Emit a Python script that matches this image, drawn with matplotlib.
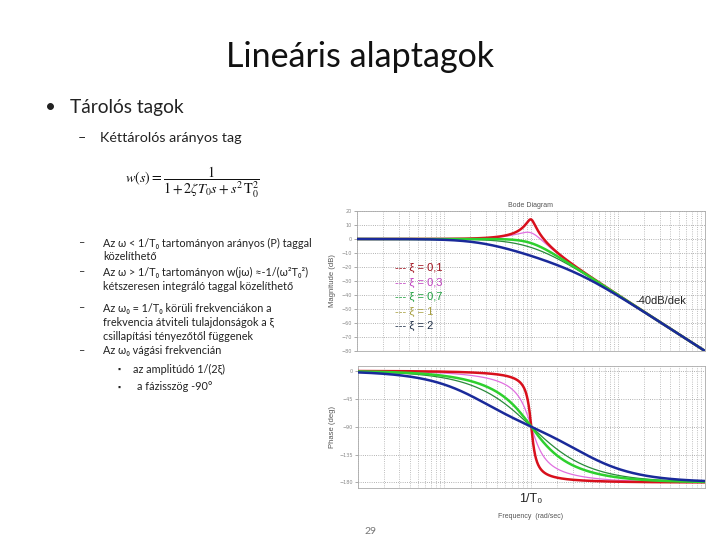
import numpy as np
import matplotlib
matplotlib.use('Agg')
import matplotlib.pyplot as plt
from matplotlib.ticker import LogLocator, NullFormatter, FixedLocator

# ---- data ----
zeta_values = [0.1, 0.3, 0.7, 1.0, 2.0]
legend_labels = ['--- ξ = 0,1', '--- ξ = 0,3', '--- ξ = 0,7', '--- ξ = 1', '--- ξ = 2']
line_colors = ['#d8101c', '#e070e0', '#2ed02e', '#2a8a3a', '#1a2a9a']
line_widths = [1.8, 0.9, 1.8, 0.9, 1.8]
label_colors = ['#a0101c', '#c040c0', '#20a040', '#a8a040', '#203048']
mag_ticks = [20, 10, 0, -10, -20, -30, -40, -50, -60, -70, -80]
phase_ticks = [0, -45, -90, -135, -180]
omega_min, omega_max = 1e-2, 1e2   # relative to omega0 = 1/T0

omega = np.logspace(np.log10(omega_min), np.log10(omega_max), 3000)

plt.rcParams['mathtext.fontset'] = 'stix'

W, H = 720, 540
fig = plt.figure(figsize=(7.2, 5.4), dpi=100)
fig.patch.set_facecolor('white')

def fx(x):
    return x / W

def fy(y):
    return 1 - y / H

SL = ['Lato', 'DejaVu Sans']
CH = ['Liberation Sans', 'DejaVu Sans']
txtc = '#222222'

# ---- slide text ----
fig.text(fx(360), fy(57), 'Lineáris alaptagok', family=SL, fontsize=24.5,
         ha='center', va='center', color='#111111')
fig.text(fx(45), fy(108), '•', family=SL, fontsize=13.5, ha='left', va='center', color=txtc)
fig.text(fx(70), fy(108), 'Tárolós tagok', family=SL, fontsize=13.8, ha='left', va='center', color=txtc)
fig.text(fx(78), fy(138), '–', family=SL, fontsize=10.3, ha='left', va='center', color=txtc)
fig.text(fx(100), fy(138), 'Kéttárolós arányos tag', family=SL, fontsize=10.3, ha='left', va='center', color=txtc)

fig.text(fx(192), fy(182), r'$w(s) = \dfrac{1}{1 + 2\zeta T_0 s + s^2\,\mathrm{T}_0^2}$',
         fontsize=10.2, ha='center', va='center', color='#111111')

fs = 7.8
lines = [
    (243, 'Az ω < 1/T₀ tartományon arányos (P) taggal', True),
    (257, 'közelíthető', False),
    (272, 'Az ω > 1/T₀ tartományon w(jω) ≈-1/(ω²T₀²)', True),
    (286, 'kétszeresen integráló taggal közelíthető', False),
    (308, 'Az ω₀ = 1/T₀ körüli frekvenciákon a', True),
    (322, 'frekvencia átviteli tulajdonságok a ξ', False),
    (336, 'csillapítási tényezőtől függenek', False),
    (351, 'Az ω₀ vágási frekvencián', True),
]
for y, t, dash in lines:
    if dash:
        fig.text(fx(78), fy(y), '–', family=SL, fontsize=fs, ha='left', va='center', color=txtc)
    fig.text(fx(103), fy(y), t, family=SL, fontsize=fs, ha='left', va='center', color=txtc)
fig.text(fx(117), fy(369), '▪', family=SL, fontsize=5.5, ha='left', va='center', color=txtc)
fig.text(fx(133), fy(369), 'az amplitúdó 1/(2ξ)', family=SL, fontsize=fs, ha='left', va='center', color=txtc)
fig.text(fx(117), fy(387), '▪', family=SL, fontsize=5.5, ha='left', va='center', color=txtc)
fig.text(fx(137), fy(387), 'a fázisszög -90°', family=SL, fontsize=fs, ha='left', va='center', color=txtc)

fig.text(fx(370), fy(531), '29', family=SL, fontsize=7.5, ha='center', va='center', color='#777777')

# ---- Bode axes ----
ax_m = fig.add_axes([fx(357), fy(351), fx(705) - fx(357), fy(211) - fy(351)])
ax_p = fig.add_axes([fx(357.5), fy(488), fx(705) - fx(357.5), fy(366) - fy(488)])

for ax in (ax_m, ax_p):
    ax.set_xscale('log')
    ax.set_xlim(omega_min, omega_max)
    ax.xaxis.set_major_locator(LogLocator(base=10))
    ax.xaxis.set_minor_locator(LogLocator(base=10, subs=np.arange(2, 10)))
    ax.xaxis.set_major_formatter(NullFormatter())
    ax.xaxis.set_minor_formatter(NullFormatter())
    ax.tick_params(axis='x', which='both', length=0)
    ax.tick_params(axis='y', which='both', length=2, width=0.5, labelsize=3.5, colors='#888888', pad=1.5)
    ax.grid(True, which='both', axis='x', linestyle=':', color='#aaaaaa', linewidth=0.6)
    ax.grid(True, which='major', axis='y', linestyle=':', color='#999999', linewidth=0.6)
    for s in ax.spines.values():
        s.set_color('#aaaaaa')
        s.set_linewidth(0.6)
    ax.set_facecolor('white')

ax_m.set_ylim(-80, 20)
ax_m.yaxis.set_major_locator(FixedLocator(mag_ticks))
ax_p.set_ylim(-189, 8)
ax_p.yaxis.set_major_locator(FixedLocator(phase_ticks))

for z, c, lw in zip(zeta_values, line_colors, line_widths):
    resp = 1.0 / (1.0 - omega**2 + 2j * z * omega)
    mag = 20 * np.log10(np.abs(resp))
    ph = np.degrees(np.unwrap(np.angle(resp)))
    ax_m.plot(omega, mag, color=c, lw=lw, zorder=3 if lw > 1 else 2)
    ax_p.plot(omega, ph, color=c, lw=lw, zorder=3 if lw > 1 else 2)

ax_m.set_title('Bode Diagram', family=CH, fontsize=5, color='#555555', pad=3)
ax_m.set_ylabel('Magnitude (dB)', family=CH, fontsize=5.5, color='#555555', labelpad=4)
ax_p.set_ylabel('Phase (deg)', family=CH, fontsize=5.5, color='#555555', labelpad=2)

# legend-like coloured labels
leg_y = [268, 283, 297, 312, 326]
for y, t, c in zip(leg_y, legend_labels, label_colors):
    fig.text(fx(395), fy(y), t, family=CH, fontsize=8, ha='left', va='center', color=c)

fig.text(fx(635), fy(301), '-40dB/dek', family=CH, fontsize=8, ha='left', va='center', color='#222222')
fig.text(fx(531), fy(499), '1/T₀', family=CH, fontsize=9, ha='center', va='center', color='#222222')
fig.text(fx(531), fy(516), 'Frequency  (rad/sec)', family=CH, fontsize=5, ha='center', va='center', color='#555555')

fig.savefig('out.png', dpi=100, facecolor='white')
